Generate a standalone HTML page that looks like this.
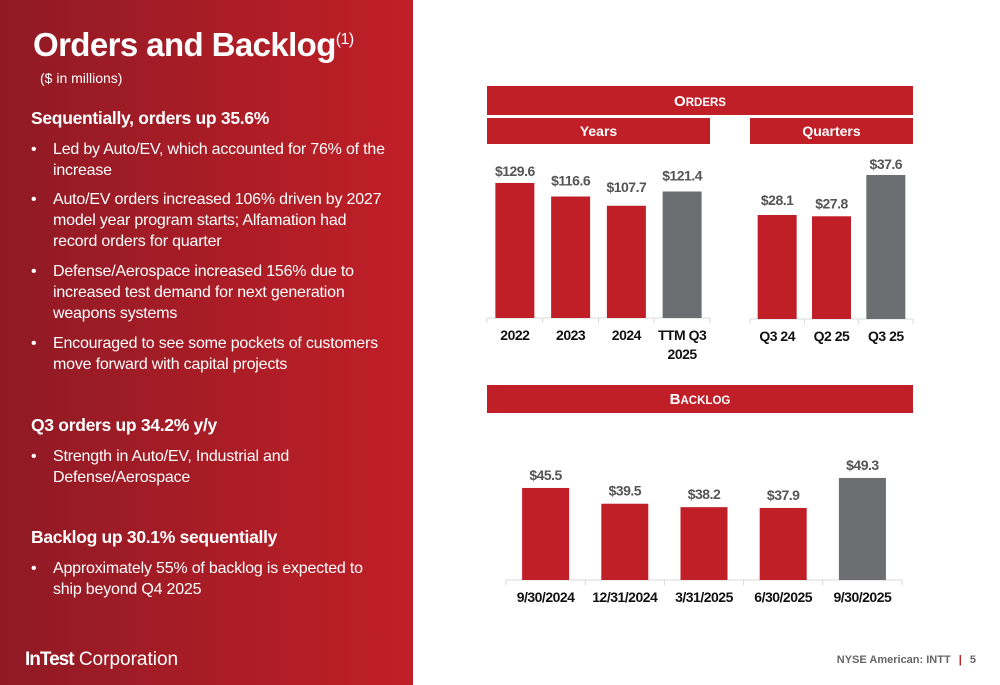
<!DOCTYPE html>
<html><head><meta charset="utf-8"><style>
body{margin:0;width:1000px;height:685px;position:relative;overflow:hidden;font-family:"Liberation Sans",sans-serif;background:#fff}
#left{position:absolute;left:0;top:0;width:413px;height:685px;background:linear-gradient(90deg,#8f1a25,#c11f27)}
.w{position:absolute;color:#fff}
.h{font-weight:bold;font-size:17.5px;left:31px;letter-spacing:-0.3px}
.b{font-size:16px;left:53px;line-height:21px;width:340px;letter-spacing:-0.2px}
.b:before{content:"•";position:absolute;left:-22px}
.bar{position:absolute;background:#c01f27;color:#fff;font-weight:bold;font-size:14px;text-align:center}
</style></head><body>
<div id="left">
<div class="w" style="left:33px;top:26px;font-size:33px;font-weight:bold;letter-spacing:-0.6px">Orders and Backlog<sup style="font-size:16px;font-weight:normal">(1)</sup></div>
<div class="w" style="left:40px;top:70px;font-size:14px">($ in millions)</div>
<div class="w h" style="top:108px">Sequentially, orders up 35.6%</div>
<div class="w b" style="top:139px">Led by Auto/EV, which accounted for 76% of the increase</div>
<div class="w b" style="top:189px">Auto/EV orders increased 106% driven by 2027 model year program starts; Alfamation had record orders for quarter</div>
<div class="w b" style="top:261px">Defense/Aerospace increased 156%  due to increased test demand for next generation weapons systems</div>
<div class="w b" style="top:333px">Encouraged to see some pockets of customers move forward with capital projects</div>
<div class="w h" style="top:415px">Q3 orders up 34.2% y/y</div>
<div class="w b" style="top:446px">Strength in Auto/EV, Industrial and Defense/Aerospace</div>
<div class="w h" style="top:527px">Backlog up 30.1% sequentially</div>
<div class="w b" style="top:558px">Approximately 55% of backlog is expected to ship beyond Q4 2025</div>
<div class="w" style="left:25px;top:649px;font-size:19px"><b style="letter-spacing:-1px">InTest</b> Corporation</div>
</div>
<div class="bar" style="left:487px;top:86px;width:426px;height:29px;line-height:31px;font-size:15px">O<span style="font-size:11.5px">RDERS</span></div>
<div class="bar" style="left:487px;top:118px;width:223px;height:26px;line-height:26px">Years</div>
<div class="bar" style="left:750px;top:118px;width:163px;height:26px;line-height:26px">Quarters</div>
<div class="bar" style="left:487px;top:385px;width:426px;height:28px;line-height:30px;font-size:15px">B<span style="font-size:11.5px">ACKLOG</span></div>
<div style="position:absolute;right:24px;top:654px;font-size:11px;color:#666;font-weight:bold">NYSE American: INTT <span style="color:#c01f27;margin:0 5px">|</span> 5</div>
<svg id="ch" width="1000" height="685" style="position:absolute;left:0;top:0"></svg>
<script>
const yearCats=["2022","2023","2024","TTM Q3|2025"];
const yearVals=[129.6,116.6,107.7,121.4];
const yearLabels=["$129.6","$116.6","$107.7","$121.4"];
const qCats=["Q3 24","Q2 25","Q3 25"];
const qVals=[28.1,27.8,37.6];
const qLabels=["$28.1","$27.8","$37.6"];
const bCats=["9/30/2024","12/31/2024","3/31/2025","6/30/2025","9/30/2025"];
const bVals=[45.5,39.5,38.2,37.9,49.3];
const bLabels=["$45.5","$39.5","$38.2","$37.9","$49.3"];
const NS="http://www.w3.org/2000/svg",svg=document.getElementById('ch');
function mk(t,a,p){const e=document.createElementNS(NS,t);for(const k in a)e.setAttribute(k,a[k]);(p||svg).appendChild(e);return e;}
function chart(name,cats,vals,labels,x0,x1,base,slope,vmin,bw,labOff){
  const n=cats.length,step=(x1-x0)/n;
  const g=mk('g',{});
  
  
  const ax=mk('line',{x1:x0,x2:x1,y1:base,y2:base,stroke:'#d9d9d9','stroke-width':1},g);
  
  
  for(let i=0;i<=n;i++){const t=mk('line',{x1:x0+i*step,x2:x0+i*step,y1:base,y2:base+5,stroke:'#d9d9d9'},g);
    
    }
  cats.forEach((c,i)=>{
    const cx=x0+step*(i+0.5),h=(vals[i]-vmin)*slope,top=base-h;
    const r=mk('rect',{x:cx-bw/2,y:top,width:bw,height:h,fill:i==n-1?'#6d6e71':'#c01f27'},g);
    
    
    const l=mk('text',{x:cx,y:top-(labOff[i]||6),'text-anchor':'middle','font-size':14,'font-weight':'bold',fill:'#555','letter-spacing':'-0.5'},g);
    l.textContent=labels[i];
    
    
    c.split('|').forEach((s,j)=>{const t=mk('text',{x:cx,y:base+22+j*19,'text-anchor':'middle','font-size':14,'font-weight':'bold',fill:'#111','letter-spacing':'-0.5'},g);
      t.textContent=s;
      
      });
  });
}
chart('years-chart',yearCats,yearVals,yearLabels,487,710,318,1.042,0,39,[7,11,14,11]);
chart('quarters-chart',qCats,qVals,qLabels,750,913,319,4.21,3.4,39,[10,8,6]);
chart('backlog-chart',bCats,bVals,bLabels,506,902,580,2.63,10.5,47,[8,8,8,8,8]);
</script>
</body></html>
